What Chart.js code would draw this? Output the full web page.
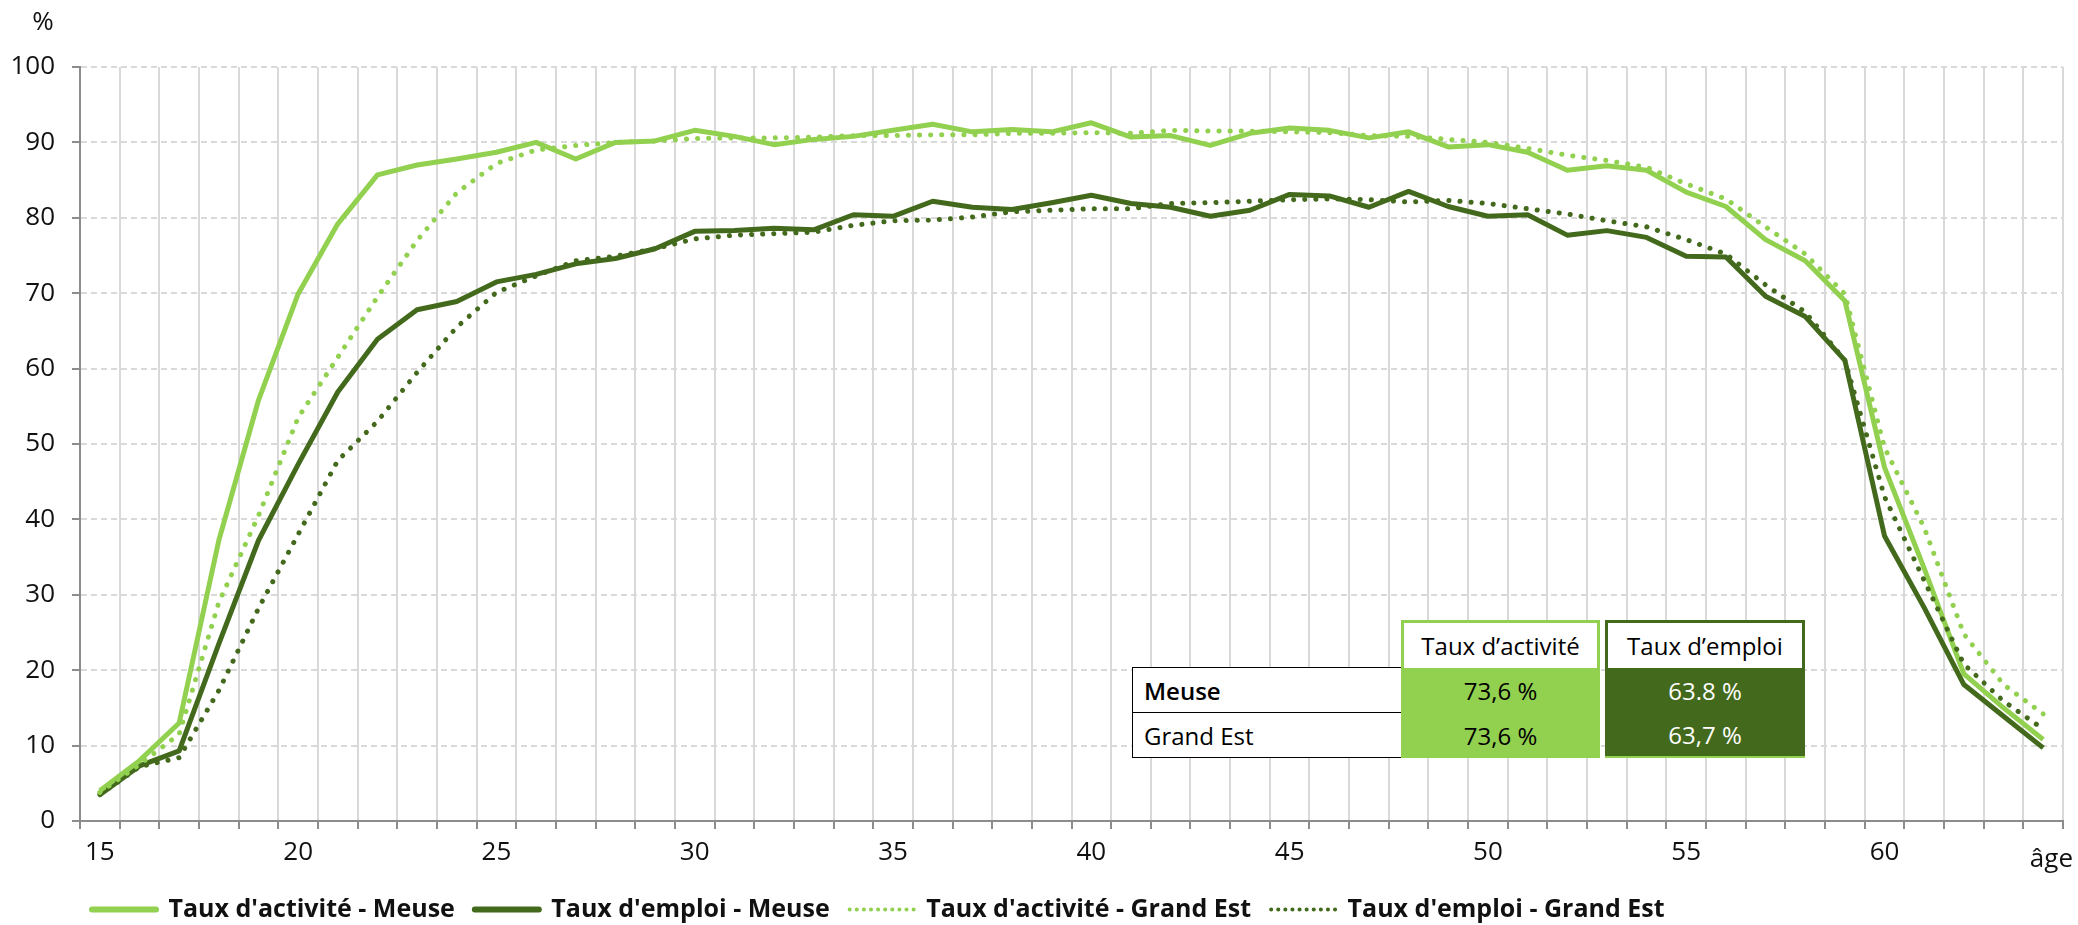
<!DOCTYPE html>
<html lang="fr">
<head>
<meta charset="utf-8">
<title>Taux d'activité et d'emploi par âge</title>
<script src="https://cdn.jsdelivr.net/npm/chart.js@4.4.1/dist/chart.umd.min.js"></script>
<style>
	html, body { margin: 0; padding: 0; background: #fff; }
	#wrap { position: relative; width: 2078px; height: 925px; font-family: 'Open Sans', sans-serif; }
	#lineChart { position: absolute; left: 0; top: 0; }
	.cell { position: absolute; box-sizing: border-box; font-size: 24px; display: flex; align-items: center; }
	.lab { left: 1132px; width: 270px; height: 46px; border: 1.5px solid #000; border-right: none; background: #fff; padding-left: 11px; color: #000; }
	.head { top: 620px; height: 48px; background: #fff; justify-content: center; color: #000; }
	.val { height: 45px; justify-content: center; }
</style>
</head>
<body>
<div id="wrap">
	<canvas id="lineChart" width="2078" height="925"></canvas>
	<div class="cell lab" style="top:667px; font-weight:600;">Meuse</div>
	<div class="cell lab" style="top:712px;">Grand Est</div>
	<div class="cell head" style="left:1401px; width:199px; border:3px solid #92d050; border-bottom:none;">Taux d’activité</div>
	<div class="cell head" style="left:1605px; width:200px; border:3px solid #436a1c; border-bottom:none;">Taux d’emploi</div>
	<div class="cell val" style="left:1401px; top:668px; width:199px; background:#92d050; color:#000;">73,6 %</div>
	<div class="cell val" style="left:1401px; top:713px; width:199px; background:#92d050; color:#000;">73,6 %</div>
	<div class="cell val" style="left:1605px; top:668px; width:200px; background:#436a1c; color:#fff;">63.8 %</div>
	<div class="cell val" style="left:1605px; top:713px; width:200px; background:#436a1c; color:#fff; border-bottom:2px solid #92d050;">63,7 %</div>
</div>
<script>
const ages = [15, 16, 17, 18, 19, 20, 21, 22, 23, 24, 25, 26, 27, 28, 29, 30, 31, 32, 33, 34,
	35, 36, 37, 38, 39, 40, 41, 42, 43, 44, 45, 46, 47, 48, 49, 50, 51, 52, 53, 54,
	55, 56, 57, 58, 59, 60, 61, 62, 63, 64];
const ageTicks = [15, 20, 25, 30, 35, 40, 45, 50, 55, 60];

// Meuse
const activiteMeuse = [4.0, 8.0, 13.0, 37.2, 55.8, 69.9, 79.2, 85.7, 87.0, 87.8,
	88.7, 90.0, 87.8, 90.0, 90.2, 91.6, 90.8, 89.7, 90.4, 90.8,
	91.6, 92.4, 91.4, 91.7, 91.4, 92.6, 90.7, 90.9, 89.6, 91.2,
	91.9, 91.6, 90.6, 91.4, 89.4, 89.7, 88.7, 86.3, 86.9, 86.3,
	83.4, 81.5, 77.1, 74.3, 69.0, 46.9, 33.5, 19.5, 15.0, 10.8];
const emploiMeuse = [3.5, 7.3, 9.3, 23.5, 37.2, 47.3, 56.9, 63.9, 67.8, 68.9,
	71.5, 72.5, 73.9, 74.6, 75.9, 78.2, 78.3, 78.6, 78.4, 80.4,
	80.2, 82.2, 81.4, 81.1, 82.0, 83.0, 81.9, 81.4, 80.2, 81.0,
	83.1, 82.9, 81.4, 83.5, 81.5, 80.2, 80.4, 77.7, 78.3, 77.4,
	74.9, 74.8, 69.6, 66.9, 61.1, 37.8, 28.3, 18.1, 13.9, 9.7];
// Grand Est
const activiteGE = [3.8, 7.5, 11.5, 29.0, 40.5, 53.5, 61.5, 69.5, 77.0, 83.3,
	87.2, 89.0, 89.6, 90.0, 90.2, 90.5, 90.6, 90.6, 90.7, 90.9,
	90.9, 91.0, 91.0, 91.2, 91.2, 91.3, 91.2, 91.6, 91.5, 91.5,
	91.4, 91.3, 90.9, 90.8, 90.4, 90.0, 89.2, 88.3, 87.6, 86.7,
	84.5, 82.5, 78.8, 75.2, 69.9, 49.5, 38.9, 24.8, 18.1, 14.2];
const emploiGE = [3.5, 7.2, 8.4, 17.3, 28.2, 38.0, 47.8, 53.0, 59.5, 65.5,
	70.1, 72.3, 74.3, 74.9, 75.9, 77.2, 77.7, 77.9, 78.1, 79.0,
	79.6, 79.7, 80.1, 80.8, 81.0, 81.2, 81.2, 81.9, 82.0, 82.2,
	82.4, 82.5, 82.4, 82.1, 82.3, 81.9, 81.2, 80.5, 79.6, 78.8,
	77.1, 75.2, 71.1, 67.5, 61.1, 43.0, 31.9, 20.8, 15.9, 12.2];

const vertClair = '#92d050';
const vertFonce = '#436a1c';
const tickFont = { family: "'Open Sans', sans-serif", size: 26 };

// textes "%" et "âge" autour des axes
const axisTexts = {
	id: 'axisTexts',
	afterDraw(chart) {
		const ctx = chart.ctx;
		const area = chart.chartArea;
		ctx.save();
		ctx.fillStyle = '#111';
		ctx.font = "26px 'Open Sans', sans-serif";
		ctx.textAlign = 'center';
		ctx.textBaseline = 'middle';
		ctx.fillText('%', area.left - 37, area.top - 44);
		ctx.textAlign = 'right';
		ctx.textBaseline = 'alphabetic';
		ctx.fillText('âge', area.right + 10, chart.scales.x.top + 46);
		ctx.restore();
	}
};
// légende calée à gauche comme dans l'original
const legendShift = {
	id: 'legendShift',
	afterLayout(chart) {
		chart.legend.left = 72;
		chart.legend.top = chart.height - 48;
	}
};

const chartEle = document.getElementById('lineChart');
const lineChart = new Chart(chartEle, {
	type: 'line',
	data: {
		labels: ages,
		datasets: [{
			label: "Taux d'activité - Meuse",
			data: activiteMeuse,
			borderColor: vertClair,
			backgroundColor: vertClair,
			borderWidth: 5,
			order: 2
		}, {
			label: "Taux d'emploi - Meuse",
			data: emploiMeuse,
			borderColor: vertFonce,
			backgroundColor: vertFonce,
			borderWidth: 5,
			order: 2
		}, {
			label: "Taux d'activité - Grand Est",
			data: activiteGE,
			borderColor: vertClair,
			backgroundColor: vertClair,
			borderWidth: 5,
			borderDash: [0.1, 11],
			borderCapStyle: 'round',
			order: 1
		}, {
			label: "Taux d'emploi - Grand Est",
			data: emploiGE,
			borderColor: vertFonce,
			backgroundColor: vertFonce,
			borderWidth: 5,
			borderDash: [0.1, 11],
			borderCapStyle: 'round',
			order: 1
		}]
	},
	options: {
		responsive: false,
		animation: false,
		events: [],
		elements: {
			point: { radius: 0 },
			line: { tension: 0, borderJoinStyle: 'round' }
		},
		layout: { padding: { top: 67, right: 15, bottom: 0, left: 0 } },
		scales: {
			x: {
				type: 'category',
				offset: true,
				afterFit(scale) { scale.height = 49; },
				grid: { offset: true, color: '#d9d9d9', lineWidth: 2, tickLength: 8, tickColor: '#8c8c8c', tickWidth: 2 },
				border: { color: '#8c8c8c', width: 2 },
				ticks: {
					autoSkip: false,
					maxRotation: 0,
					padding: 8,
					color: '#111',
					font: tickFont,
					callback: function (value, index) {
						const age = ages[index];
						return ageTicks.includes(age) ? String(age) : '';
					}
				}
			},
			y: {
				min: 0,
				max: 100,
				afterFit(scale) { scale.width = 80; },
				grid: { color: '#d9d9d9', lineWidth: 2, tickLength: 8, tickColor: '#8c8c8c', tickWidth: 2 },
				border: { color: '#8c8c8c', width: 2, dash: [6, 4] },
				ticks: { stepSize: 10, padding: 17, color: '#111', font: tickFont }
			}
		},
		plugins: {
			tooltip: { enabled: false },
			legend: {
				position: 'bottom',
				align: 'start',
				labels: {
					usePointStyle: true,
					pointStyle: 'line',
					pointStyleWidth: 64,
					padding: 20,
					color: '#111',
					font: { family: "'Open Sans', sans-serif", size: 25, weight: 'bold' },
					sort: (a, b) => a.datasetIndex - b.datasetIndex,
					generateLabels(chart) {
						const items = Chart.defaults.plugins.legend.labels.generateLabels(chart);
						items.forEach(item => {
							const ds = chart.data.datasets[item.datasetIndex];
							const dotted = !!ds.borderDash;
							item.strokeStyle = ds.borderColor;
							item.fillStyle = ds.borderColor;
							item.lineCap = 'round';
							item.lineWidth = dotted ? 4 : 6;
							item.lineDash = dotted ? [0.1, 7] : [];
						});
						return items;
					}
				}
			}
		}
	},
	plugins: [axisTexts, legendShift]
});
</script>
</body>
</html>
